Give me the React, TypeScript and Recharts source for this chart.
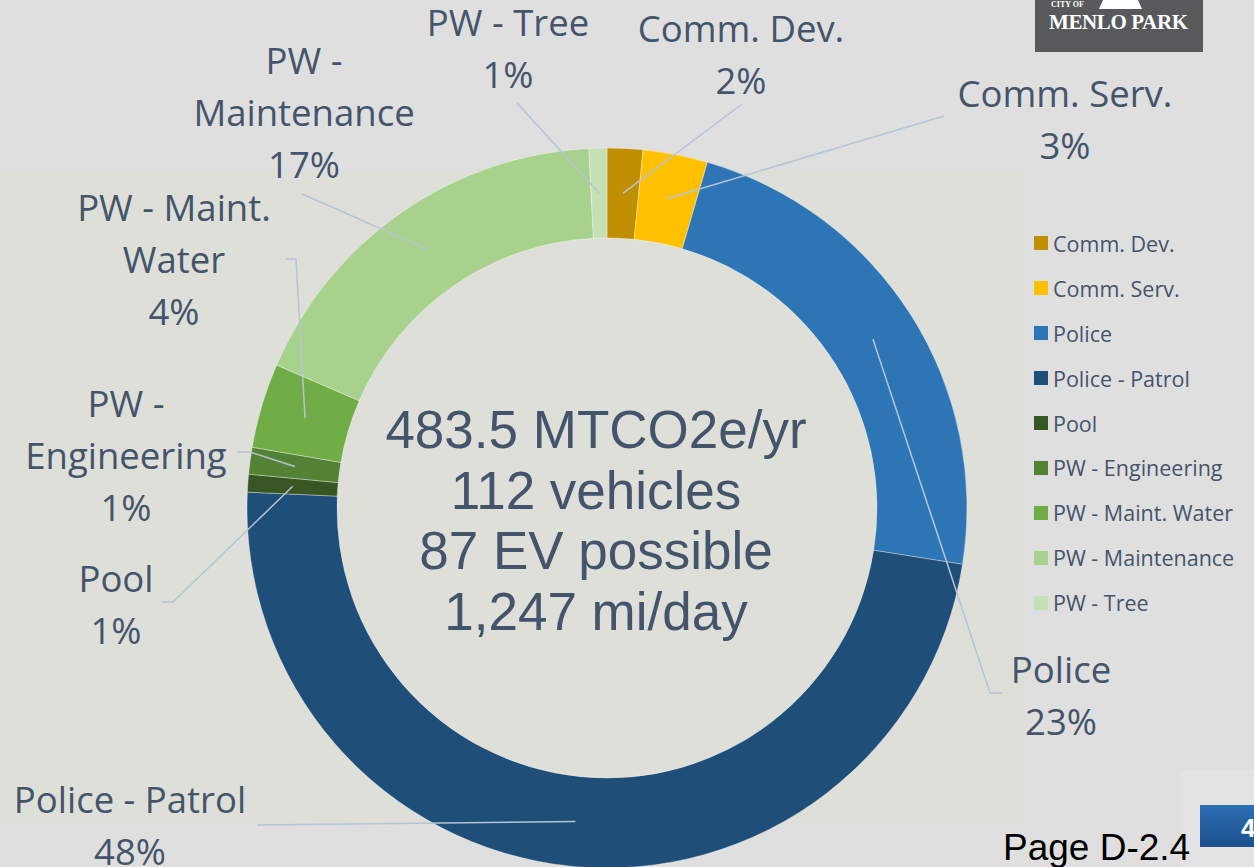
import { PieChart, Pie, Cell } from "recharts";

const DEPARTMENTS = [
  "Comm. Dev.",
  "Comm. Serv.",
  "Police",
  "Police - Patrol",
  "Pool",
  "PW - Engineering",
  "PW - Maint. Water",
  "PW - Maintenance",
  "PW - Tree",
];
// share of fleet emissions
const SHARE = [1.6, 2.9, 23.0, 48.2, 0.8, 1.2, 3.8, 17.7, 0.8];
const PCT_LABELS = ["2%", "3%", "23%", "48%", "1%", "1%", "4%", "17%", "1%"];
const LABEL_TEXT = [
  ["Comm. Dev."],
  ["Comm. Serv."],
  ["Police"],
  ["Police - Patrol"],
  ["Pool"],
  ["PW -", "Engineering"],
  ["PW - Maint.", "Water"],
  ["PW -", "Maintenance"],
  ["PW - Tree"],
];
const COLORS = ["#BF8F00", "#FFC000", "#2E75B6", "#1F4E79", "#375623", "#548235", "#70AD47", "#A9D18E", "#C5E0B4"];
const CENTER_LINES = ["483.5 MTCO2e/yr", "112 vehicles", "87 EV possible", "1,247 mi/day"];

const data = DEPARTMENTS.map((name, i) => ({ name, value: SHARE[i] }));

// where each data label sits and where its leader line ends
const LABEL_LAYOUT: { x: number; y: number; end: [number, number]; stub?: [number, number] }[] = [
  { x: 741, y: 42, end: [742, 104] },
  { x: 1065, y: 107, end: [944, 116] },
  { x: 1061, y: 683, end: [990, 693], stub: [1002, 693] },
  { x: 130, y: 813, end: [257, 825] },
  { x: 116, y: 592, end: [173, 602], stub: [162, 602] },
  { x: 126, y: 417, end: [250, 452], stub: [237, 452] },
  { x: 174, y: 221, end: [296, 259], stub: [286, 259] },
  { x: 304, y: 74, end: [302, 194] },
  { x: 508, y: 36, end: [517, 103] },
];

const TEXT = "#44546A";
const LEADER = "#B7C4D6";
const LABEL_FONT = "'Open Sans', 'Noto Sans', sans-serif";

function renderLabel(props: any) {
  const { cx, cy, midAngle, innerRadius, outerRadius, index } = props;
  const r = (innerRadius + outerRadius) / 2;
  const a = (-midAngle * Math.PI) / 180;
  const sx = cx + r * Math.cos(a);
  const sy = cy + r * Math.sin(a);
  const lay = LABEL_LAYOUT[index];
  const lines = [...LABEL_TEXT[index], PCT_LABELS[index]];
  let pts = `${sx},${sy} ${lay.end[0]},${lay.end[1]}`;
  if (lay.stub) pts += ` ${lay.stub[0]},${lay.stub[1]}`;
  return (
    <g>
      <polyline points={pts} fill="none" stroke={LEADER} strokeWidth={1.5} />
      <text x={lay.x} y={lay.y} textAnchor="middle" fill={TEXT} fontSize={36.5} fontFamily={LABEL_FONT}>
        {lines.map((t, i) => (
          <tspan key={i} x={lay.x} dy={i === 0 ? 0 : 52}>
            {t}
          </tspan>
        ))}
      </text>
    </g>
  );
}

function Legend() {
  return (
    <div style={{ position: "absolute", left: 1034, top: 221, fontFamily: LABEL_FONT, fontSize: 21.5, color: TEXT }}>
      {DEPARTMENTS.map((d, i) => (
        <div key={d} style={{ display: "flex", alignItems: "center", height: 44.9, whiteSpace: "nowrap" }}>
          <span style={{ width: 14, height: 14, background: COLORS[i], marginRight: 5, display: "inline-block" }} />
          {d}
        </div>
      ))}
    </div>
  );
}

export default function App() {
  return (
    <div style={{ position: "absolute", left: 0, top: 0, width: 1254, height: 867, background: "#DFDFDF", overflow: "hidden" }}>
      <div style={{ position: "absolute", left: 0, top: 170, width: 1027, height: 655, background: "#DEDFD9" }} />
      <svg width={1254} height={867} style={{ position: "absolute", left: 0, top: 0 }}>
        <rect x={1035} y={0} width={168} height={52} fill="#58595B" />
        <polygon points="1103,0 1138,0 1142,9 1099,9" fill="#FFFFFF" />
        <text x={1051} y={7} fill="#FFFFFF" fontSize={8} fontWeight="bold" fontFamily="'Liberation Serif', serif">
          CITY OF
        </text>
        <text x={1049} y={29} fill="#FFFFFF" fontSize={21} fontWeight="bold" fontFamily="'Liberation Serif', serif" textLength={139}>
          MENLO PARK
        </text>
        <rect x={1180} y={770} width={74} height={97} fill="#E6E6E6" opacity={0.6} />
        <defs>
          <linearGradient id="tab" x1="0" y1="0" x2="0" y2="1">
            <stop offset="0" stopColor="#2C6FB4" />
            <stop offset="1" stopColor="#1B4F8C" />
          </linearGradient>
        </defs>
        <rect x={1200} y={805} width={54} height={42} fill="url(#tab)" />
        <text x={1241} y={837} fill="#FFFFFF" fontSize={26} fontWeight="bold" fontFamily="'Liberation Sans', Arial, sans-serif">
          4
        </text>
        <text x={1003} y={860} fill="#000000" fontSize={37} fontFamily="'Liberation Sans', Arial, sans-serif">
          Page D-2.4
        </text>
      </svg>
      <div style={{ position: "absolute", left: 0, top: 0 }}>
        <PieChart width={1254} height={867} margin={{ top: 0, right: 0, bottom: 0, left: 0 }}>
          <Pie
            data={data}
            dataKey="value"
            nameKey="name"
            cx={607}
            cy={508}
            innerRadius={270}
            outerRadius={360}
            startAngle={90}
            endAngle={-270}
            stroke="rgba(255,255,255,0.35)"
            strokeWidth={1}
            label={renderLabel}
            labelLine={false}
            isAnimationActive={false}
          >
            {data.map((d, i) => (
              <Cell key={d.name} fill={COLORS[i]} />
            ))}
          </Pie>
          <text textAnchor="middle" fill={TEXT} fontSize={53} fontFamily="'Liberation Sans', Arial, sans-serif">
            {CENTER_LINES.map((t, i) => (
              <tspan key={t} x={596} y={448 + i * 60.5}>
                {t}
              </tspan>
            ))}
          </text>
        </PieChart>
      </div>
      <Legend />
    </div>
  );
}
